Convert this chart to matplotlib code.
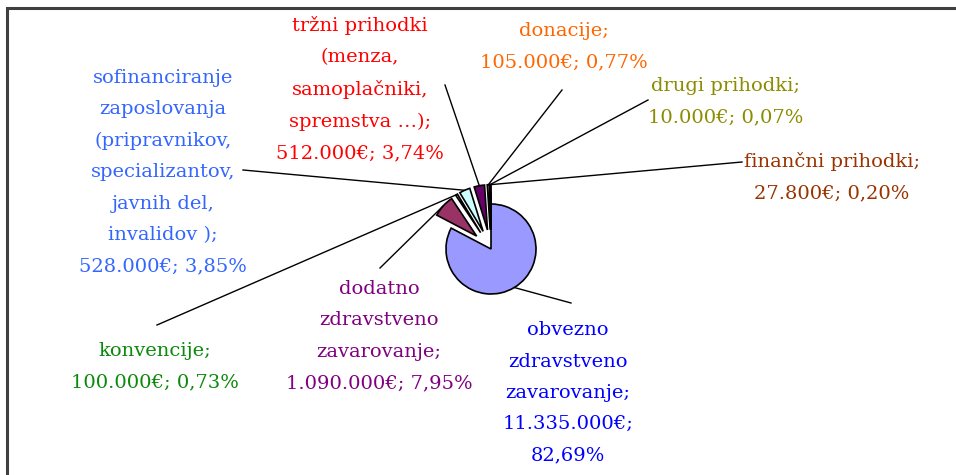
import numpy as np
import matplotlib
matplotlib.use('Agg')
import matplotlib.pyplot as plt

W, H = 956, 475

# data (order as drawn, clockwise from 12 o'clock)
names = ['obvezno\nzdravstveno\nzavarovanje', 'dodatno\nzdravstveno\nzavarovanje', 'konvencije',
         'sofinanciranje\nzaposlovanja\n(pripravnikov,\nspecializantov,\njavnih del,\ninvalidov )',
         'tržni prihodki\n(menza,\nsamoplačniki,\nspremstva …)', 'donacije', 'drugi prihodki',
         'finančni prihodki']
values = [11335000, 1090000, 100000, 528000, 512000, 105000, 10000, 27800]
value_sep = ['\n', ' ', ' ', ' ', ' ', ' ', ' ', ' ']
slice_colors = ['#9999FF', '#993366', '#FFFFCC', '#CCFFFF', '#660066', '#FF8080', '#0066CC', '#CCCCFF']
text_colors = ['#0000FF', '#800080', '#0A8A0A', '#3366FF', '#FF0000', '#FF6600', '#8C8C00', '#993300']

# layout (image pixel coords, y down)
center_img = (491, 249)
radius = 45
explode_frac = [0, 0.43, 0.43, 0.43, 0.43, 0.43, 0.43, 0.43]
label_pos = [(568, 393), (379, 336), (155, 367), (163, 172), (360, 89), (564, 47), (726, 102), (832, 177)]
line_start = [(571, 303), (380, 268), (157, 325), (243, 170), (445, 85), (562, 90), (648, 100), (742, 162)]


def fmt_num(v):
    return f'{v:,}'.replace(',', '.')


def fmt_pct(p):
    return f'{p:.2f}'.replace('.', ',')


fig = plt.figure(figsize=(W / 100, H / 100), dpi=100)
ax = fig.add_axes([0, 0, 1, 1])

cx, cy = center_img[0], H - center_img[1]
# pie() offsets wedges by explode in data units, so scale by the radius
wedges, _ = ax.pie(values, colors=slice_colors, explode=[e * radius for e in explode_frac],
                   startangle=90, counterclock=False, center=(cx, cy), radius=radius, frame=True,
                   wedgeprops=dict(edgecolor='black', linewidth=1.2))

total = sum(values)
for i, w in enumerate(wedges):
    mid = np.deg2rad((w.theta1 + w.theta2) / 2)
    wx, wy = w.center
    ex = wx + w.r * np.cos(mid)
    ey = wy + w.r * np.sin(mid)
    sx, sy = line_start[i]
    ax.plot([sx, ex], [H - sy, ey], color='black', lw=1)

    pct = values[i] / total * 100
    txt = f'{names[i]};\n{fmt_num(values[i])}€;{value_sep[i]}{fmt_pct(pct)}%'
    lx, ly = label_pos[i]
    ax.text(lx, H - ly, txt, ha='center', va='center', multialignment='center',
            color=text_colors[i], fontsize=14, family='DejaVu Serif', linespacing=1.95)

# chart frame
ax.plot([7, 7, W], [0, H - 8, H - 8], color='#404040', lw=2.2, solid_joinstyle='miter')

ax.set_xlim(0, W)
ax.set_ylim(0, H)
ax.set_aspect('equal')
ax.axis('off')

fig.savefig('out.png', dpi=100)
